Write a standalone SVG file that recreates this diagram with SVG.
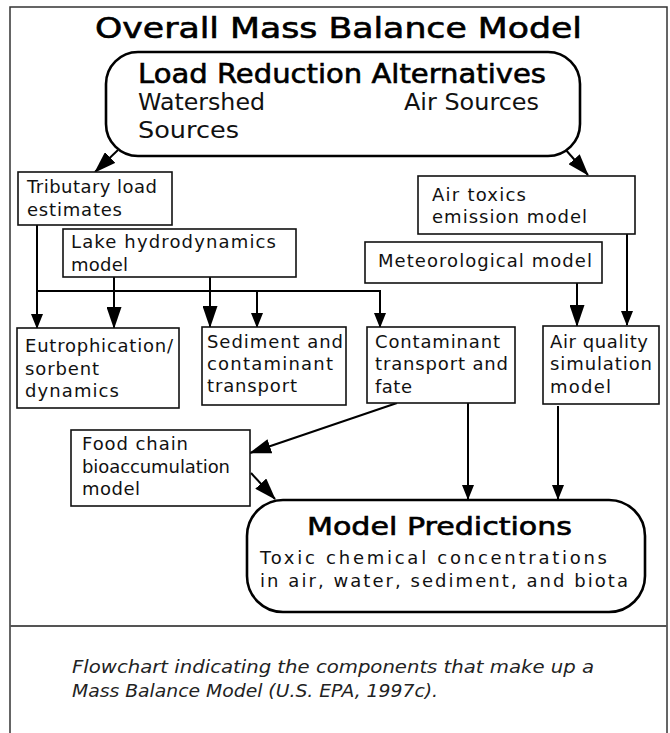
<svg xmlns="http://www.w3.org/2000/svg" width="670" height="733" viewBox="0 0 670 733">
<style>
.frame{fill:none;stroke:#333;stroke-width:1.5}
.box{fill:#fff;stroke:#111;stroke-width:1.6}
.rbox{fill:#fff;stroke:#000;stroke-width:2.6}
.c{fill:none;stroke:#000;stroke-width:2}
.t{font-family:"DejaVu Sans","Liberation Sans",sans-serif;font-size:18px;fill:#111}
.h{font-family:"DejaVu Sans","Liberation Sans",sans-serif;fill:#000;stroke:#000;stroke-width:0.6}
.s{font-family:"DejaVu Sans","Liberation Sans",sans-serif;font-size:23px;fill:#111}
.cap{font-family:"DejaVu Sans","Liberation Sans",sans-serif;font-size:18px;font-style:italic;fill:#222}
</style>
<defs>
<marker id="big" markerUnits="userSpaceOnUse" markerWidth="22" markerHeight="15" refX="21" refY="7.5" orient="auto">
<path d="M0,0 L22,7.5 L0,15 z" fill="#000"/>
</marker>
<marker id="small" markerUnits="userSpaceOnUse" markerWidth="15" markerHeight="12" refX="14" refY="6" orient="auto">
<path d="M0,0 L15,6 L0,12 z" fill="#000"/>
</marker>
</defs>
<rect width="670" height="733" fill="#fff"/>
<rect class="frame" x="10" y="7" width="657" height="740"/>
<line x1="10" y1="626" x2="667" y2="626" stroke="#555" stroke-width="2"/>
<text class="h" x="95" y="38" font-size="28" textLength="487" lengthAdjust="spacingAndGlyphs">Overall Mass Balance Model</text>

<g id="connectors">
<line class="c" x1="118" y1="150" x2="95" y2="172" marker-end="url(#big)"/>
<line class="c" x1="565" y1="149" x2="588" y2="175" marker-end="url(#big)"/>
<line class="c" x1="37" y1="225" x2="37" y2="328" marker-end="url(#small)"/>
<line class="c" x1="37" y1="291" x2="381" y2="291"/>
<line class="c" x1="114" y1="277" x2="114" y2="328" marker-end="url(#big)"/>
<line class="c" x1="210" y1="277" x2="210" y2="327" marker-end="url(#big)"/>
<line class="c" x1="257" y1="291" x2="257" y2="327" marker-end="url(#small)"/>
<line class="c" x1="380" y1="291" x2="380" y2="327" marker-end="url(#small)"/>
<line class="c" x1="577" y1="283" x2="577" y2="326" marker-end="url(#big)"/>
<line class="c" x1="627" y1="234" x2="627" y2="325" marker-end="url(#small)"/>
<line class="c" x1="397" y1="403" x2="250" y2="453" marker-end="url(#big)"/>
<line class="c" x1="468" y1="403" x2="468" y2="499" marker-end="url(#small)"/>
<line class="c" x1="558" y1="406" x2="558" y2="499" marker-end="url(#small)"/>
<line class="c" x1="251" y1="473" x2="275" y2="499" marker-end="url(#big)"/>
</g>

<g id="load-reduction">
<rect class="rbox" x="106" y="52" width="474" height="104" rx="32" ry="32"/>
<text class="h" x="138" y="83" font-size="26" textLength="408" lengthAdjust="spacingAndGlyphs">Load Reduction Alternatives</text>
<text class="s" x="138" y="110" textLength="127" lengthAdjust="spacingAndGlyphs">Watershed</text>
<text class="s" x="404" y="110" textLength="135" lengthAdjust="spacingAndGlyphs">Air Sources</text>
<text class="s" x="138" y="138" textLength="101" lengthAdjust="spacingAndGlyphs">Sources</text>
</g>

<g id="tributary">
<rect class="box" x="18" y="172" width="154" height="53"/>
<text class="t" x="27" y="193" textLength="130" lengthAdjust="spacing">Tributary load</text>
<text class="t" x="27" y="216" textLength="95" lengthAdjust="spacing">estimates</text>
</g>

<g id="air-toxics">
<rect class="box" x="418" y="176" width="217" height="58"/>
<text class="t" x="432" y="201" textLength="94" lengthAdjust="spacing">Air toxics</text>
<text class="t" x="432" y="223" textLength="155" lengthAdjust="spacing">emission model</text>
</g>

<g id="lake">
<rect class="box" x="63" y="229" width="233" height="48"/>
<text class="t" x="71" y="248" textLength="205" lengthAdjust="spacing">Lake hydrodynamics</text>
<text class="t" x="71" y="271" textLength="57" lengthAdjust="spacing">model</text>
</g>

<g id="meteorological">
<rect class="box" x="365" y="242" width="237" height="41"/>
<text class="t" x="378" y="267" textLength="214" lengthAdjust="spacing">Meteorological model</text>
</g>

<g id="eutrophication">
<rect class="box" x="17" y="328" width="162" height="80"/>
<text class="t" x="25" y="352" textLength="148" lengthAdjust="spacing">Eutrophication/</text>
<text class="t" x="25" y="375" textLength="74" lengthAdjust="spacing">sorbent</text>
<text class="t" x="25" y="397" textLength="94" lengthAdjust="spacing">dynamics</text>
</g>

<g id="sediment">
<rect class="box" x="202" y="327" width="144" height="78"/>
<text class="t" x="207" y="348" textLength="136" lengthAdjust="spacing">Sediment and</text>
<text class="t" x="207" y="370" textLength="126" lengthAdjust="spacing">contaminant</text>
<text class="t" x="207" y="392" textLength="90" lengthAdjust="spacing">transport</text>
</g>

<g id="contaminant">
<rect class="box" x="367" y="327" width="148" height="76"/>
<text class="t" x="375" y="348" textLength="125" lengthAdjust="spacing">Contaminant</text>
<text class="t" x="375" y="370" textLength="133" lengthAdjust="spacing">transport and</text>
<text class="t" x="375" y="393" textLength="37" lengthAdjust="spacing">fate</text>
</g>

<g id="air-quality">
<rect class="box" x="543" y="326" width="116" height="78"/>
<text class="t" x="550" y="348" textLength="98" lengthAdjust="spacing">Air quality</text>
<text class="t" x="550" y="370" textLength="102" lengthAdjust="spacing">simulation</text>
<text class="t" x="550" y="393" textLength="61" lengthAdjust="spacing">model</text>
</g>

<g id="food-chain">
<rect class="box" x="71" y="430" width="179" height="76"/>
<text class="t" x="82" y="450" textLength="106" lengthAdjust="spacing">Food chain</text>
<text class="t" x="82" y="473" textLength="148" lengthAdjust="spacing">bioaccumulation</text>
<text class="t" x="82" y="495" textLength="58" lengthAdjust="spacing">model</text>
</g>

<g id="model-predictions">
<rect class="rbox" x="247" y="500" width="398" height="112" rx="36" ry="36"/>
<text class="h" x="307" y="535" font-size="24" textLength="265" lengthAdjust="spacingAndGlyphs">Model Predictions</text>
<text class="t" x="260" y="564" font-size="19" textLength="347" lengthAdjust="spacing">Toxic chemical concentrations</text>
<text class="t" x="260" y="587" font-size="19" textLength="368" lengthAdjust="spacing">in air, water, sediment, and biota</text>
</g>

<text class="cap" x="72" y="673" textLength="522" lengthAdjust="spacingAndGlyphs">Flowchart indicating the components that make up a</text>
<text class="cap" x="72" y="697" textLength="366" lengthAdjust="spacingAndGlyphs">Mass Balance Model (U.S. EPA, 1997c).</text>
</svg>
